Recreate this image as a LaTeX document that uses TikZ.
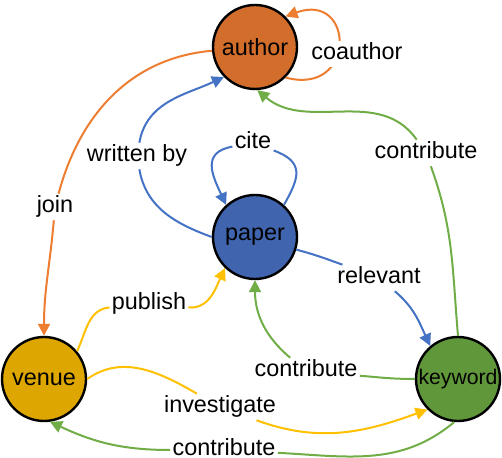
\documentclass[tikz,border=0pt]{standalone}
\usepackage{fontspec}
\setmainfont{Liberation Sans}
\usepackage{xcolor}
\usetikzlibrary{arrows.meta, positioning}

\definecolor{authorfill}{RGB}{210,109,44}
\definecolor{paperfill}{RGB}{64,101,174}
\definecolor{venuefill}{RGB}{222,166,0}
\definecolor{keywordfill}{RGB}{96,151,58}
\definecolor{ocol}{RGB}{237,125,49}
\definecolor{bcol}{RGB}{68,114,196}
\definecolor{ycol}{RGB}{255,192,0}
\definecolor{gcol}{RGB}{112,173,71}

\begin{document}
\begin{tikzpicture}[x=0.5pt, y=0.5pt,
    entity/.style={circle, draw=black, line width=1.2pt, minimum size=42pt, inner sep=0pt,
        font=\fontsize{11.7}{14}\selectfont},
    lbl/.style={fill=white, inner sep=1pt, font=\fontsize{11.7}{14}\selectfont,
        text height=8.4pt, text depth=2.5pt},
    rel/.style={line width=1pt, -{Triangle[length=6pt, width=6pt]}}]
    \useasboundingbox (0,0) rectangle (502,458);

    % I quattro tipi di nodo
    \node[entity, fill=authorfill] (author) at (255,411) {author};
    \node[entity, fill=paperfill] (paper) at (255,221) {paper};
    \node[entity, fill=venuefill] (venue) at (44,79) {venue};
    \node[entity, fill=keywordfill, font=\fontsize{10.6}{13}\selectfont] (keyword) at (458,79) {keyword};

    % Il cappio coauthor (passa sotto la sua etichetta)
    \draw[rel, ocol] (author.-45) to[out=-15, in=20, looseness=3.1] (author.45);

    % Etichette delle relazioni
    \node[lbl] (lcoauth) at (357,404) {coauthor};
    \node[lbl] (ljoin) at (55,251) {join};
    \node[lbl] (lwritten) at (137,302) {written by};
    \node[lbl] (lcite) at (253,315) {cite};
    \node[lbl] (lrelevant) at (379,180) {relevant};
    \node[lbl] (lcontribA) at (426,305) {contribute};
    \node[lbl] (lcontribB) at (306,87) {contribute};
    \node[lbl] (lpublish) at (149,154) {publish};
    \node[lbl] (linvest) at (220,51) {investigate};
    \node[lbl] (lcontribC) at (224,8) {contribute};

    % Archi arancioni e blu
    \draw[rel, ocol] (author.185) to[out=185, in=75] (ljoin) to[out=-95, in=90] (venue.north);
    \draw[rel, bcol] (paper.180) to[out=160, in=-80] (lwritten) to[out=80, in=205] (author.-136);
    \draw[rel, bcol] (paper.48) to[out=60, in=-20, looseness=1.5] (lcite) to[out=190, in=115, looseness=1.4] (paper.132);
    \draw[rel, bcol] (paper.-17) to[out=-15, in=160] (lrelevant) to[out=-40, in=115] (keyword.130);

    % Archi verdi
    \draw[rel, gcol] (keyword.north) to[out=95, in=-70] (lcontribA) to[out=125, in=-40] (author.-87);
    \draw[rel, gcol] (keyword.west) to[out=180, in=-5] (lcontribB) to[out=140, in=-90] (paper.south);
    \draw[rel, gcol] (keyword.-95) to[out=-140, in=-3] (lcontribC) to[out=180, in=-25] (venue.-82);

    % Archi gialli
    \draw[rel, ycol] (venue.40) to[out=65, in=185] (lpublish) to[out=-5, in=-115] (paper.-134);
    \draw[rel, ycol] (venue.east) to[out=35, in=150] (linvest) to[out=-20, in=200] (keyword.-135);

\end{tikzpicture}
\end{document}
